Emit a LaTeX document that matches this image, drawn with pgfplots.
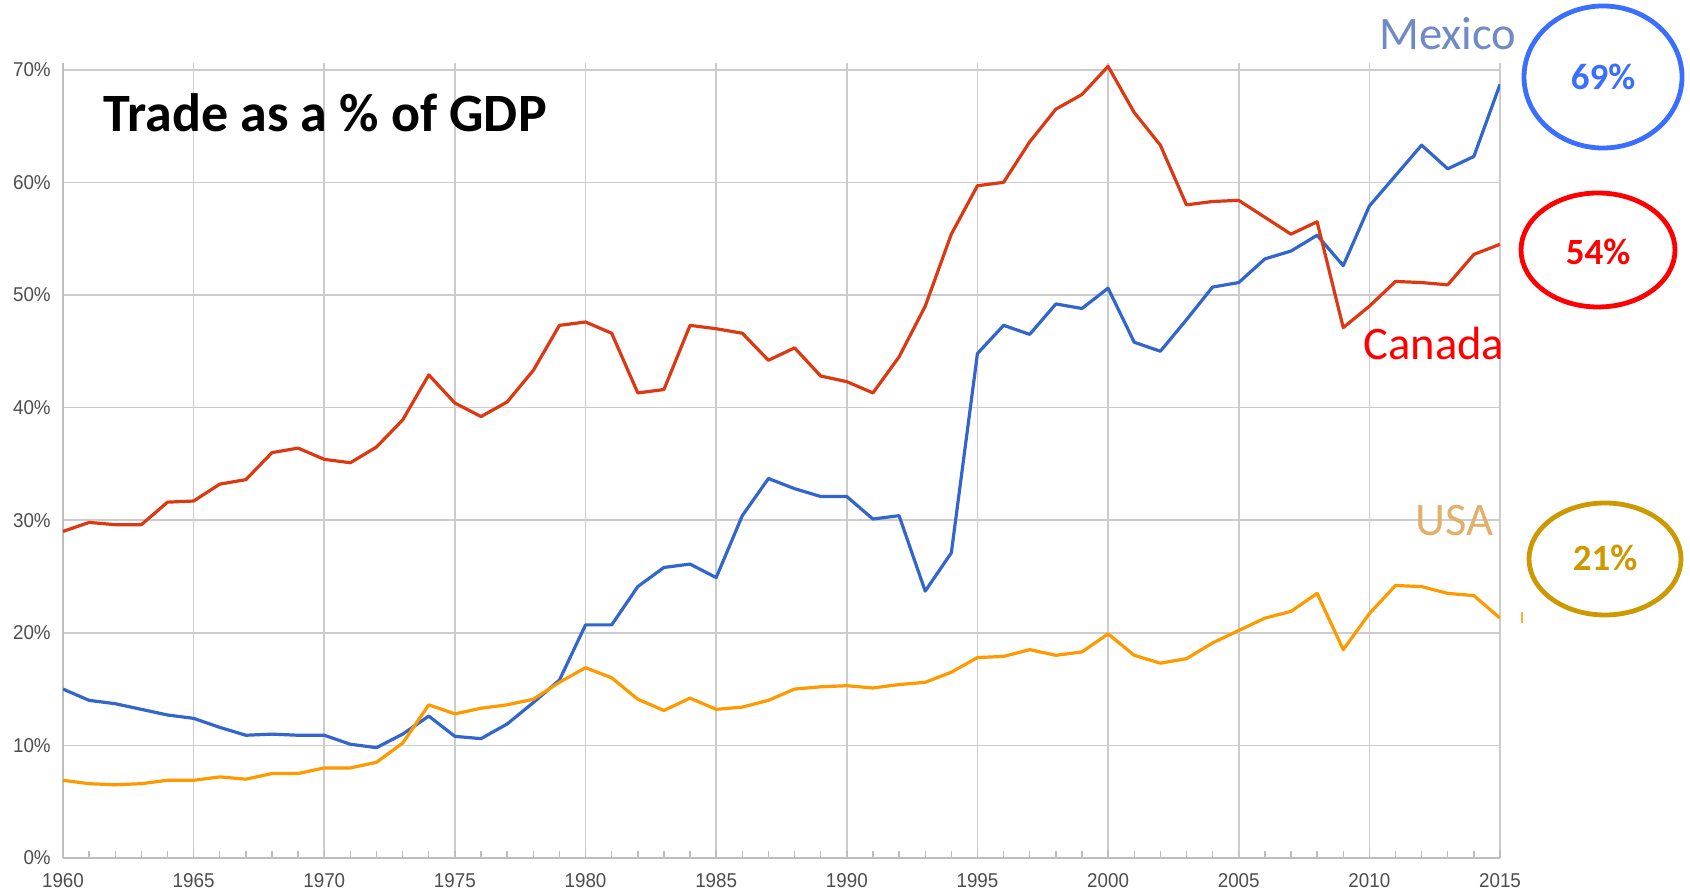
\documentclass[border=0pt]{standalone}
\usepackage{fontspec}
\setmainfont{Liberation Sans}
\newfontfamily\calibri{Carlito}
\usepackage{pgfplots}
\usepackage{pgfplotstable}
\pgfplotsset{compat=1.18}

\definecolor{mxblue}{HTML}{3366CC}
\definecolor{cared}{HTML}{DC3912}
\definecolor{usorange}{HTML}{FF9900}
\definecolor{gridgray}{HTML}{CCCCCC}
\definecolor{axisgray}{HTML}{BDBDBD}
\definecolor{ticktext}{HTML}{4D4D4D}
\definecolor{mxlabel}{HTML}{6F8AC4}
\definecolor{uslabel}{HTML}{E3B06B}
\definecolor{ringblue}{HTML}{3A6EFF}
\definecolor{ringgold}{HTML}{CC9900}

% trade as % of GDP
\pgfplotstableread{
year canada mexico usa
1960 29.0 15.0 6.9
1961 29.8 14.0 6.6
1962 29.6 13.7 6.5
1963 29.6 13.2 6.6
1964 31.6 12.7 6.9
1965 31.7 12.4 6.9
1966 33.2 11.6 7.2
1967 33.6 10.9 7.0
1968 36.0 11.0 7.5
1969 36.4 10.9 7.5
1970 35.4 10.9 8.0
1971 35.1 10.1 8.0
1972 36.5 9.8 8.5
1973 38.9 11.0 10.2
1974 42.9 12.6 13.6
1975 40.4 10.8 12.8
1976 39.2 10.6 13.3
1977 40.5 11.9 13.6
1978 43.3 13.8 14.1
1979 47.3 15.8 15.6
1980 47.6 20.7 16.9
1981 46.6 20.7 16.0
1982 41.3 24.1 14.1
1983 41.6 25.8 13.1
1984 47.3 26.1 14.2
1985 47.0 24.9 13.2
1986 46.6 30.4 13.4
1987 44.2 33.7 14.0
1988 45.3 32.8 15.0
1989 42.8 32.1 15.2
1990 42.3 32.1 15.3
1991 41.3 30.1 15.1
1992 44.5 30.4 15.4
1993 49.0 23.7 15.6
1994 55.4 27.1 16.5
1995 59.7 44.8 17.8
1996 60.0 47.3 17.9
1997 63.6 46.5 18.5
1998 66.5 49.2 18.0
1999 67.8 48.8 18.3
2000 70.3 50.6 19.9
2001 66.2 45.8 18.0
2002 63.3 45.0 17.3
2003 58.0 47.8 17.7
2004 58.3 50.7 19.1
2005 58.4 51.1 20.2
2006 56.9 53.2 21.3
2007 55.4 53.9 21.9
2008 56.5 55.3 23.5
2009 47.1 52.6 18.5
2010 49.0 57.9 21.7
2011 51.2 60.6 24.2
2012 51.1 63.3 24.1
2013 50.9 61.2 23.5
2014 53.6 62.3 23.3
2015 54.5 68.7 21.3
}\trade

\begin{document}
\begin{tikzpicture}
\path[use as bounding box] (-31.5pt,-17.5pt) rectangle (813.5pt,429pt);
\begin{axis}[
  scale only axis, width=718.5pt, height=397.5pt,
  xmin=1960, xmax=2015, ymin=0, ymax=70.6,
  axis x line*=bottom, axis y line*=left,
  axis line style={draw=axisgray, line width=1pt},
  xtick={1960,1965,...,2015},
  xticklabels={1960,1965,1970,1975,1980,1985,1990,1995,2000,2005,2010,2015},
  minor x tick num=4,
  ytick={0,10,...,70},
  yticklabels={0\%,10\%,20\%,30\%,40\%,50\%,60\%,70\%},
  grid=major,
  major grid style={draw=gridgray, line width=0.8pt},
  tick align=inside,
  major tick length=3.5pt, minor tick length=3.5pt,
  x tick style={draw=axisgray, line width=0.7pt},
  y tick style={draw=none},
  tick label style={font=\fontsize{10}{12}\selectfont, text=ticktext, xscale=0.94},
  xticklabel style={yshift=-4.3pt},
  yticklabel style={xshift=-3pt},
  every axis plot/.append style={line width=1.6pt, line join=round, mark=none},
]
\addplot[mxblue] table[x=year, y=mexico] {\trade};
\addplot[cared] table[x=year, y=canada] {\trade};
\addplot[usorange] table[x=year, y=usa] {\trade};
\end{axis}

\node[anchor=base west, inner sep=0, font=\calibri\bfseries\fontsize{27}{30}\selectfont]
  at (20pt,363pt) {Trade as a \% of GDP};

\node[anchor=base west, inner sep=0, text=mxlabel, font=\calibri\fontsize{23.3}{26}\selectfont]
  at (658pt,404pt) {Mexico};
\node[anchor=base west, inner sep=0, text=red, font=\calibri\fontsize{23.3}{26}\selectfont]
  at (650pt,249pt) {Canada};
\node[anchor=base west, inner sep=0, text=uslabel, font=\calibri\fontsize{23.3}{26}\selectfont]
  at (676pt,161pt) {USA};

\draw[ringblue, line width=2.4pt] (770pt,390.5pt) ellipse [x radius=39.5pt, y radius=35.5pt];
\node[text=ringblue, font=\calibri\bfseries\fontsize{18.5}{20}\selectfont] at (770pt,390.5pt) {69\%};
\draw[red, line width=2.4pt] (767.5pt,304pt) ellipse [x radius=38.5pt, y radius=28.5pt];
\node[text=red, font=\calibri\bfseries\fontsize{18.5}{20}\selectfont] at (767.5pt,303pt) {54\%};
\draw[ringgold, line width=2.4pt] (771pt,149.5pt) ellipse [x radius=38pt, y radius=28pt];
\node[text=ringgold, font=\calibri\bfseries\fontsize{18.5}{20}\selectfont] at (771pt,150pt) {21\%};
\draw[usorange!80, line width=0.8pt] (729.5pt,117.5pt) -- (729.5pt,123pt);
\end{tikzpicture}
\end{document}
